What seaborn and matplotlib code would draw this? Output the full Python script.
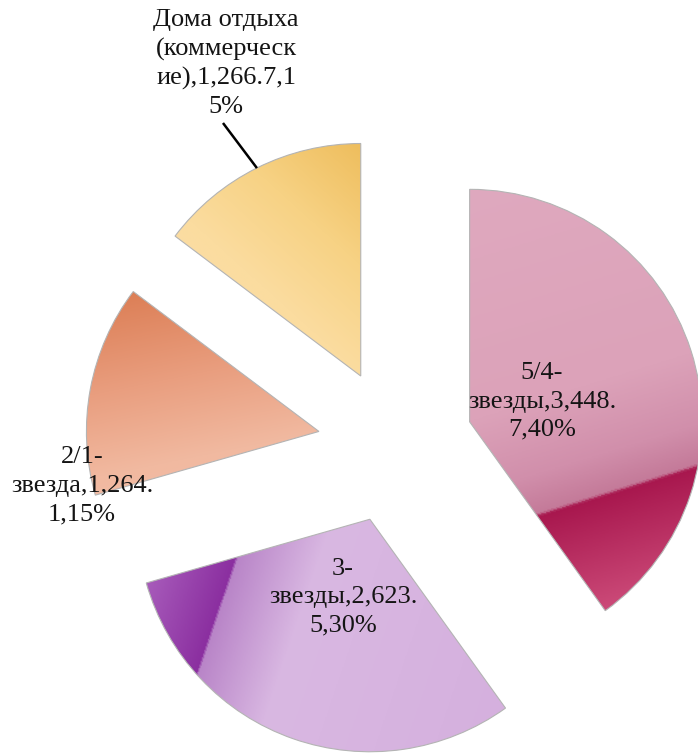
import numpy as np
import matplotlib
matplotlib.use("Agg")
import matplotlib.pyplot as plt
import seaborn as sns
from matplotlib.colors import LinearSegmentedColormap

# data
categories = ["5/4-звезды", "3-звезды", "2/1-звезда", "Дома отдыха (коммерческие)"]
values = [3448.7, 2623.5, 1264.1, 1266.7]
percents = [40, 30, 15, 15]
# labels wrapped the same way as in the source chart
labels = [
    "5/4-\nзвезды,3,448.\n7,40%",
    "3-\nзвезды,2,623.\n5,30%",
    "2/1-\nзвезда,1,264.\n1,15%",
    "Дома отдыха\n(коммерческ\nие),1,266.7,1\n5%",
]

# gradient fill per slice: direction (data units) and colour stops along it
gradients = [
    ((0.294, -0.956), [(-1.0, "#dfa9bf"), (0.0, "#dca2b9"), (0.30, "#d18fab"),
                       (0.465, "#c47a99"), (0.478, "#a8174e"), (0.95, "#cc4b79")]),
    ((0.947, -0.321), [(-0.83, "#a85cbb"), (-0.50, "#8b2fa0"), (-0.488, "#b985c8"),
                       (-0.15, "#d9b8e2"), (0.82, "#d5b0de")]),
    ((0.200, -0.980), [(-0.76, "#dc7e55"), (-0.35, "#e99e7f"), (0.0, "#f1b9a0"),
                       (0.1, "#f1bba3")]),
    ((-0.669, -0.743), [(-0.75, "#eebd5c"), (-0.35, "#f7d284"), (0.0, "#fbdc9f"),
                        (0.1, "#fbdda2")]),
]

label_pos = [(0.630, 0.190), (-0.226, -0.650), (-1.348, -0.172), (-0.729, 1.643)]
leader = [(-0.742, 1.388), (-0.596, 1.194)]

sns.set_theme(style="white")
plt.rcParams["font.family"] = ["Liberation Serif", "DejaVu Serif"]

fig = plt.figure(figsize=(6.98, 7.53), dpi=100)
ax = fig.add_axes([0, 0, 1, 1])
ax.set_axis_off()

wedges, _ = ax.pie(values, explode=[0.335] * 4, startangle=90, counterclock=False,
                   radius=1.0,
                   wedgeprops=dict(facecolor="none", edgecolor="#b4b4b4", linewidth=0.8))

for w, (n, stops) in zip(wedges, gradients):
    cx, cy = w.center
    tmin, tmax = stops[0][0], stops[-1][0]
    cmap = LinearSegmentedColormap.from_list(
        "g", [((t - tmin) / (tmax - tmin), c) for t, c in stops])
    xs = np.linspace(cx - 1.05, cx + 1.05, 400)
    ys = np.linspace(cy - 1.05, cy + 1.05, 400)
    X, Y = np.meshgrid(xs, ys)
    T = (X - cx) * n[0] + (Y - cy) * n[1]
    T = np.clip((T - tmin) / (tmax - tmin), 0, 1)
    im = ax.imshow(cmap(T), extent=(xs[0], xs[-1], ys[0], ys[-1]), origin="lower",
                   interpolation="bilinear", zorder=0.5)
    im.set_clip_path(w)
    w.set_zorder(2)

for lab, (x, y) in zip(labels, label_pos):
    ax.text(x, y, lab, ha="center", va="center", fontsize=19,
            color="#141414", linespacing=1.37, zorder=3)

ax.plot([p[0] for p in leader], [p[1] for p in leader], color="black", lw=1.8,
        solid_capstyle="butt", zorder=3)

s = 232.5
ax.set_xlim(-395.5 / s, (698 - 395.5) / s)
ax.set_ylim(-(753 - 445.7) / s, 445.7 / s)
ax.set_aspect("equal")

fig.savefig("out.png", dpi=100)
